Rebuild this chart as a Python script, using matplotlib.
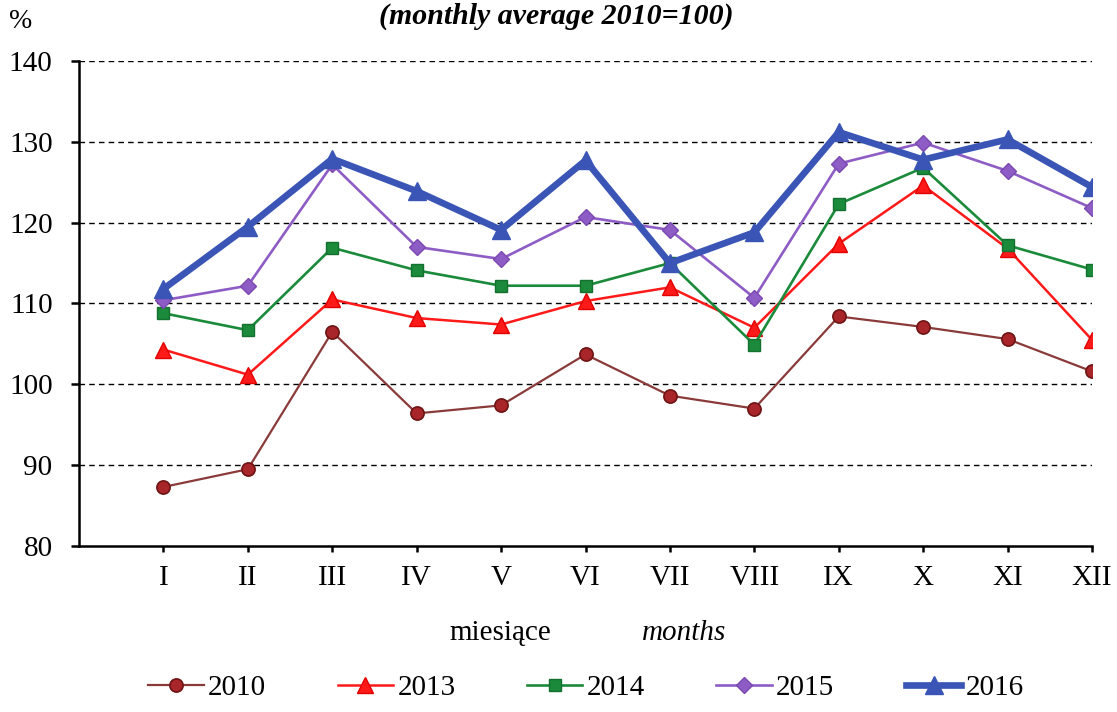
import matplotlib
matplotlib.use("Agg")
import matplotlib.pyplot as plt

months = ["I", "II", "III", "IV", "V", "VI", "VII", "VIII", "IX", "X", "XI", "XII"]
y2010 = [87.3, 89.5, 106.5, 96.4, 97.4, 103.7, 98.6, 97.0, 108.4, 107.1, 105.6, 101.6]
y2013 = [104.3, 101.2, 110.5, 108.2, 107.4, 110.3, 112.0, 107.0, 117.4, 124.6, 116.8, 105.5]
y2014 = [108.8, 106.7, 116.9, 114.1, 112.2, 112.2, 115.0, 104.9, 122.3, 126.8, 117.2, 114.2]
y2015 = [110.4, 112.2, 127.2, 117.0, 115.5, 120.7, 119.1, 110.7, 127.3, 129.9, 126.4, 121.8]
y2016 = [111.8, 119.5, 127.9, 123.9, 119.1, 127.7, 115.0, 118.8, 131.2, 127.8, 130.3, 124.4]
yticks = [80, 90, 100, 110, 120, 130, 140]

serif = ["Liberation Serif", "DejaVu Serif"]
plt.rcParams["font.family"] = serif

fig = plt.figure(figsize=(11.17, 7.12), dpi=100)
ax = fig.add_axes([79 / 1117, 1 - 546 / 712, (1092 - 79) / 1117, (546 - 61) / 712])

x = list(range(1, len(months) + 1))

ax.plot(x, y2010, color="#8B3A3A", lw=1.6, marker="o", ms=9.5,
        mfc="#A8262A", mec="#6E1414", mew=1.2, label="2010", zorder=3)
ax.plot(x, y2013, color="#FF1A1A", lw=1.8, marker="^", ms=11,
        mfc="#FF1A1A", mec="#E00000", label="2013", zorder=4)
ax.plot(x, y2014, color="#1B8A3A", lw=1.9, marker="s", ms=8,
        mfc="#1B8A3A", mec="#14702E", label="2014", zorder=5)
ax.plot(x, y2015, color="#8E5CC5", lw=1.9, marker="D", ms=8,
        mfc="#8E5CC5", mec="#7A48B0", label="2015", zorder=6)
ax.plot(x, y2016, color="#3A55B5", lw=4.8, marker="^", ms=13,
        mfc="#3A55B5", mec="#3A55B5", label="2016", zorder=7)

ax.set_xlim(0, 12)
ax.set_ylim(80, 140)
ax.set_yticks(yticks)
ax.set_xticks(x)
ax.set_xticklabels(months)

for v in yticks[1:]:
    ax.axhline(v, color="black", lw=1.0, ls=(0, (4, 3)), zorder=1)

for s in ["top", "right"]:
    ax.spines[s].set_visible(False)
for s in ["left", "bottom"]:
    ax.spines[s].set_linewidth(1.8)

ax.tick_params(axis="y", direction="out", length=6, width=1.8, pad=13, labelsize=21)
ax.tick_params(axis="x", direction="out", length=4, width=1.8, pad=10, labelsize=21)

fig.text(21 / 1117, 1 - 22 / 712, "%", fontsize=20, ha="center", va="center")
fig.text(556 / 1117, 1 - 16 / 712, "(monthly average 2010=100)", fontsize=21.5,
         fontweight="bold", fontstyle="italic", ha="center", va="center")

fig.text(500 / 1117, 1 - 633 / 712, "miesiące", fontsize=21, ha="center", va="center")
fig.text(684 / 1117, 1 - 633 / 712, "months", fontsize=21, fontstyle="italic",
         ha="center", va="center")

fig.legend(loc="center", bbox_to_anchor=(586 / 1117, 1 - 688 / 712), ncol=5,
           frameon=False, fontsize=21, handlelength=1.9, handletextpad=0.15,
           columnspacing=2.45)

fig.savefig("out.png", dpi=100)
